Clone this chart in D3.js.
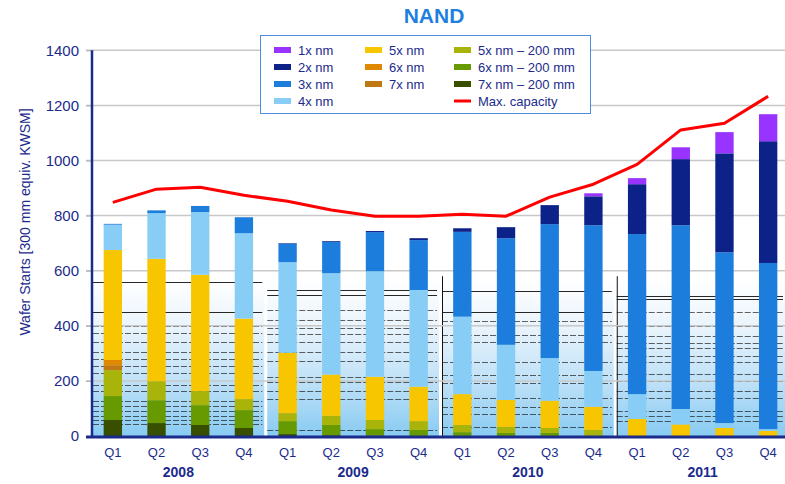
<!DOCTYPE html>
<html>
<head>
<meta charset="utf-8">
<script src="https://cdnjs.cloudflare.com/ajax/libs/d3/7.8.5/d3.min.js"></script>
<style>
body { margin: 0; background: #fff; }
text { font-family: "Liberation Sans", Arial, sans-serif; }
</style>
</head>
<body>
<div class="chart"></div>
<script>
const years = ["2008", "2009", "2010", "2011"];
const quarters = ["Q1", "Q2", "Q3", "Q4"];
const periods = [
    "2008 Q1", "2008 Q2", "2008 Q3", "2008 Q4",
    "2009 Q1", "2009 Q2", "2009 Q3", "2009 Q4",
    "2010 Q1", "2010 Q2", "2010 Q3", "2010 Q4",
    "2011 Q1", "2011 Q2", "2011 Q3", "2011 Q4"
];

// series, bottom of the stack first
const nm7x200 = [58, 47, 40, 29, 7, 3, 2, 0, 0, 0, 0, 0, 0, 0, 0, 0];
const nm6x200 = [87, 83, 72, 65, 47, 37, 23, 22, 14, 11, 11, 0, 0, 0, 0, 0];
const nm5x200 = [94, 69, 51, 40, 29, 33, 33, 32, 26, 22, 18, 22, 0, 0, 0, 0];
const nm7x = [18, 0, 0, 0, 0, 0, 0, 0, 0, 0, 0, 0, 0, 0, 0, 0];
const nm6x = [19, 0, 0, 0, 0, 0, 0, 0, 0, 0, 0, 0, 0, 0, 0, 0];
const nm5x = [399, 444, 422, 292, 219, 150, 157, 125, 112, 98, 99, 84, 62, 42, 29, 19];
const nm4x = [92, 166, 228, 310, 329, 368, 383, 351, 281, 200, 155, 130, 90, 56, 18, 6];
const nm3x = [3, 10, 22, 58, 67, 113, 142, 181, 308, 387, 486, 529, 581, 667, 620, 603];
const nm2x = [0, 0, 0, 0, 2, 3, 4, 7, 13, 40, 69, 105, 181, 240, 359, 442];
const nm1x = [0, 0, 0, 0, 0, 0, 0, 0, 0, 0, 0, 11, 22, 43, 77, 98];
const maxCapacity = [848, 896, 903, 874, 852, 820, 798, 798, 805, 798, 867, 914, 986, 1111, 1135, 1233];

const yTicks = [0, 200, 400, 600, 800, 1000, 1200, 1400];

// the faint lines of the background picture, per year panel
const panelLines = {
    "2008": [558, 450, 400, 375, 340, 305, 280, 255, 230, 185, 165, 128, 110, 90, 72, 58, 42],
    "2009": [530, 511, 457, 421, 392, 370, 341, 305, 272, 214, 196, 163, 134, 22],
    "2010": [526, 450, 417, 366, 341, 268, 221, 192, 138, 105, 80, 33],
    "2011": [508, 497, 450, 399, 363, 337, 319, 290, 268, 225, 200, 163, 138, 91, 73, 54]
};

const seriesDict = {
    "7x nm \u2013 200 mm": { values: nm7x200, color: "#384f00" },
    "6x nm \u2013 200 mm": { values: nm6x200, color: "#679a00" },
    "5x nm \u2013 200 mm": { values: nm5x200, color: "#a8b40a" },
    "7x nm": { values: nm7x, color: "#c07810" },
    "6x nm": { values: nm6x, color: "#e08800" },
    "5x nm": { values: nm5x, color: "#f8c600" },
    "4x nm": { values: nm4x, color: "#87cdf5" },
    "3x nm": { values: nm3x, color: "#1c7ddc" },
    "2x nm": { values: nm2x, color: "#0d2288" },
    "1x nm": { values: nm1x, color: "#9933ff" }
};
const keys = Object.keys(seriesDict);
const navy = "#1b2b8c";

var table = periods.map(function (p, i) {
    var row = { period: p };
    keys.forEach(function (k) { row[k] = seriesDict[k].values[i]; });
    return row;
});

var width = 785, height = 484;

var svg = d3.select('.chart')
    .append('svg')
    .attr("width", width)
    .attr("height", height);

var x = d3.scaleBand()
    .domain(periods)
    .range([91, 790])
    .paddingInner(0.58)
    .paddingOuter(0.29);

var y = d3.scaleLinear()
    .domain([0, 1400])
    .range([436, 50.3]);

var step = x.step();

// gradient for the background panels
var grad = svg.append("defs").append("linearGradient")
    .attr("id", "panelGrad")
    .attr("x1", 0).attr("y1", 0).attr("x2", 0).attr("y2", 1);
grad.append("stop").attr("offset", "0%").attr("stop-color", "#ffffff");
grad.append("stop").attr("offset", "30%").attr("stop-color", "#eaf4fc");
grad.append("stop").attr("offset", "65%").attr("stop-color", "#bfe1f7");
grad.append("stop").attr("offset", "100%").attr("stop-color", "#88cbf2");

var panelTop = 568;
years.forEach(function (yr, i) {
    var x0 = i === 0 ? 93 : x(yr + " Q1") + x.bandwidth() / 2 - step / 2 + 1.5;
    var x1 = Math.min(width, x(yr + " Q4") + x.bandwidth() / 2 + step / 2 - 1.5);
    var g = svg.append("g").attr("class", "panel");
    g.append("rect")
        .attr("x", x0)
        .attr("y", y(panelTop))
        .attr("width", x1 - x0)
        .attr("height", y(0) - y(panelTop))
        .style("fill", "url(#panelGrad)");
    g.selectAll("line")
        .data(panelLines[yr])
        .enter()
        .append("line")
        .attr("x1", x0)
        .attr("x2", x1 - 2)
        .attr("y1", function (d) { return Math.round(y(d)) + 0.5; })
        .attr("y2", function (d) { return Math.round(y(d)) + 0.5; })
        .style("stroke", "#111")
        .style("stroke-width", 1)
        .style("opacity", function (d, j) { return j < 2 ? 0.9 : 0.65; })
        .style("stroke-dasharray", function (d, j) { return j < 2 ? null : "6,2"; });
    if (i >= 2) {
        g.append("line")
            .attr("x1", x0 + 0.5).attr("x2", x0 + 0.5)
            .attr("y1", y(580)).attr("y2", y(0))
            .style("stroke", "#111")
            .style("stroke-width", 1);
    }
});

// grid lines
svg.append("g")
    .attr("class", "grid")
    .selectAll("line")
    .data(yTicks.slice(1))
    .enter()
    .append("line")
    .attr("x1", 86)
    .attr("x2", width)
    .attr("y1", function (d) { return y(d); })
    .attr("y2", function (d) { return y(d); })
    .style("stroke", "#c8c8c8")
    .style("stroke-width", 1.5);

// stacked bars
var stacked = d3.stack().keys(keys)(table);

svg.append("g")
    .selectAll("g")
    .data(stacked)
    .enter()
    .append("g")
    .style("fill", function (d) { return seriesDict[d.key].color; })
    .selectAll("rect")
    .data(function (d) { return d; })
    .enter()
    .append("rect")
    .attr("x", function (d) { return x(d.data.period); })
    .attr("width", x.bandwidth())
    .attr("y", function (d) { return y(d[1]); })
    .attr("height", function (d) { return y(d[0]) - y(d[1]); });

// max capacity line
var line = d3.line()
    .x(function (d, i) { return x(periods[i]) + x.bandwidth() / 2; })
    .y(function (d) { return y(d); });

svg.append("path")
    .datum(maxCapacity)
    .attr("d", line)
    .style("fill", "none")
    .style("stroke", "#ff0000")
    .style("stroke-width", 3)
    .style("stroke-linejoin", "round");

// y axis
var yAxis = svg.append("g")
    .attr("class", "y-axis")
    .attr("transform", "translate(92,0)")
    .call(d3.axisLeft(y).tickValues(yTicks).tickFormat(d3.format("d")).tickSize(6).tickPadding(7));
yAxis.select(".domain").remove();
yAxis.selectAll(".tick line").style("stroke", "#b0b0b0");
yAxis.selectAll(".tick text")
    .style("fill", navy)
    .style("font-size", "15px")
    .style("font-family", "'Liberation Sans', Arial, sans-serif");
svg.append("line")
    .attr("x1", 92).attr("x2", 92)
    .attr("y1", y(1400)).attr("y2", y(0) + 1)
    .style("stroke", navy)
    .style("stroke-width", 2.5);

// x axis
svg.append("line")
    .attr("x1", 86).attr("x2", width)
    .attr("y1", y(0) + 1).attr("y2", y(0) + 1)
    .style("stroke", navy)
    .style("stroke-width", 3);

svg.append("g")
    .selectAll("text")
    .data(periods)
    .enter()
    .append("text")
    .attr("x", function (d) { return x(d) + x.bandwidth() / 2; })
    .attr("y", 457)
    .attr("text-anchor", "middle")
    .style("fill", navy)
    .style("font-size", "13px")
    .text(function (d) { return d.split(" ")[1]; });

svg.append("g")
    .selectAll("text")
    .data(years)
    .enter()
    .append("text")
    .attr("x", function (d) { return (x(d + " Q1") + x(d + " Q4") + x.bandwidth()) / 2; })
    .attr("y", 477)
    .attr("text-anchor", "middle")
    .style("fill", navy)
    .style("font-size", "14px")
    .style("font-weight", "bold")
    .text(function (d) { return d; });

// y label
svg.append("text")
    .attr("transform", "translate(30,222) rotate(-90)")
    .attr("text-anchor", "middle")
    .style("fill", navy)
    .style("font-size", "14px")
    .text("Wafer Starts [300 mm equiv. KWSM]");

// title
svg.append("text")
    .attr("x", 434)
    .attr("y", 23)
    .attr("text-anchor", "middle")
    .style("fill", "#1f7fdf")
    .style("font-size", "21px")
    .style("font-weight", "bold")
    .text("NAND");

// legend
var legend = svg.append("g").attr("class", "legend");
legend.append("rect")
    .attr("x", 260.5).attr("y", 35.5)
    .attr("width", 330).attr("height", 78)
    .style("fill", "#fff")
    .style("stroke", "#4a8ee0")
    .style("stroke-width", 1);

var legendItems = [
    { key: "1x nm", col: 0, row: 0 }, { key: "2x nm", col: 0, row: 1 },
    { key: "3x nm", col: 0, row: 2 }, { key: "4x nm", col: 0, row: 3 },
    { key: "5x nm", col: 1, row: 0 }, { key: "6x nm", col: 1, row: 1 },
    { key: "7x nm", col: 1, row: 2 },
    { key: "5x nm \u2013 200 mm", col: 2, row: 0 }, { key: "6x nm \u2013 200 mm", col: 2, row: 1 },
    { key: "7x nm \u2013 200 mm", col: 2, row: 2 }
];
var colX = [274, 365, 454];

var li = legend.selectAll(".item")
    .data(legendItems)
    .enter()
    .append("g")
    .attr("class", "item")
    .attr("transform", function (d) { return "translate(" + colX[d.col] + "," + (50 + d.row * 17) + ")"; });
li.append("rect")
    .attr("x", 0).attr("y", -3)
    .attr("width", 17).attr("height", 6)
    .style("fill", function (d) { return seriesDict[d.key].color; });
li.append("text")
    .attr("x", 24).attr("y", 4.5)
    .style("fill", navy)
    .style("font-size", "13px")
    .text(function (d) { return d.key; });

var capItem = legend.append("g")
    .attr("transform", "translate(" + colX[2] + "," + (50 + 3 * 17) + ")");
capItem.append("line")
    .attr("x1", 0).attr("x2", 17)
    .style("stroke", "#ff0000")
    .style("stroke-width", 3);
capItem.append("text")
    .attr("x", 24).attr("y", 4.5)
    .style("fill", navy)
    .style("font-size", "13px")
    .text("Max. capacity");
</script>
</body>
</html>
